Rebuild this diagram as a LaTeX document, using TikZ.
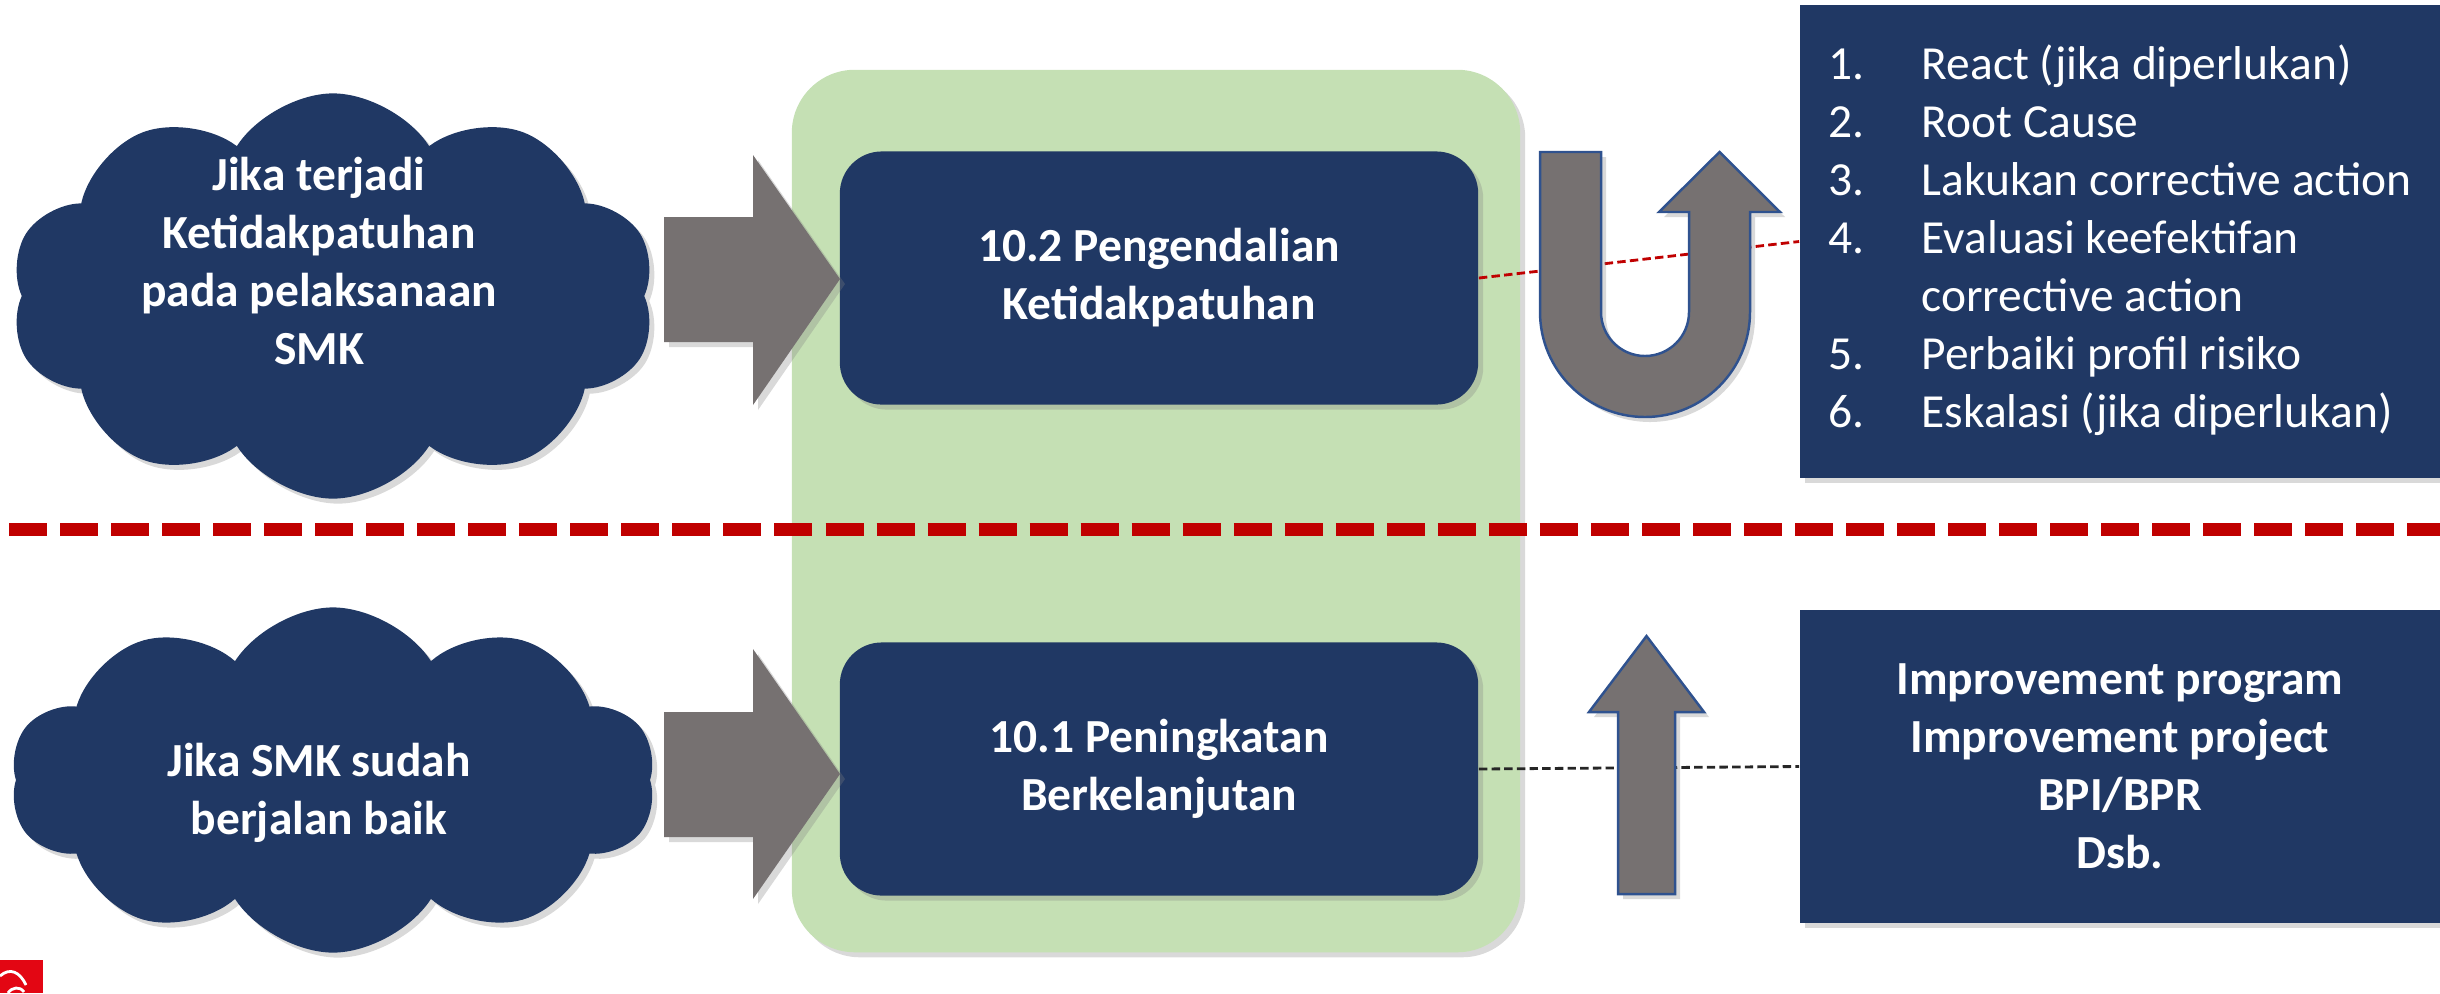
\documentclass[tikz,border=0pt]{standalone}
\usepackage{fontspec}
\setmainfont{Carlito}
\usepackage{tikz}
\usetikzlibrary{shapes.symbols,shadows}

\definecolor{navy}{HTML}{203864}
\definecolor{panelgreen}{HTML}{C5E0B4}
\definecolor{arrowgray}{HTML}{767171}
\definecolor{arrowedge}{HTML}{2F528F}
\definecolor{sepred}{HTML}{C00000}
\definecolor{logored}{HTML}{E30613}

\begin{document}
\begin{tikzpicture}[x=0.01cm, y=-0.01cm,
    every node/.style={font=\fontsize{13.5}{16.5}\selectfont},
    softshadow/.style={drop shadow={opacity=0.3, shadow xshift=0.05cm, shadow yshift=-0.05cm}},
    cloudnode/.style={cloud, cloud puffs=10, cloud puff arc=115, cloud ignores aspect, fill=navy, inner sep=0pt, softshadow},
    cloudtext/.style={text=white, font=\fontsize{13.5}{16.5}\selectfont\bfseries, align=center},
    panel/.style={rectangle, rounded corners=0.63cm, fill=panelgreen, minimum width=7.28cm, minimum height=8.82cm, softshadow},
    stagebox/.style={rectangle, rounded corners=0.42cm, fill=navy, minimum width=6.38cm, minimum height=2.53cm, text=white, font=\fontsize{13.5}{16.5}\selectfont\bfseries, align=center, softshadow},
    infobox/.style={rectangle, fill=navy, minimum width=6.4cm, text=white, softshadow},
    blockarrow/.style={fill=arrowgray, softshadow},
    bentarrow/.style={fill=arrowgray, draw=arrowedge, line width=0.7pt, softshadow},
    linkdash/.style={line width=0.8pt, dash pattern=on 2.4pt off 1.2pt},
    sepline/.style={line width=0.13cm, dash pattern=on 0.38cm off 0.13cm},
  ]
  \useasboundingbox (0,0) rectangle (2440,993);

  \node[cloudnode, minimum width=6.45cm, minimum height=4.05cm] (cloudUp) at (333,296) {};
  \node[cloudtext] (txtUp) at (319,261) {Jika terjadi\\Ketidakpatuhan\\pada pelaksanaan\\SMK};
  \node[cloudnode, minimum width=6.45cm, minimum height=3.45cm] (cloudLow) at (333,780) {};
  \node[cloudtext] (txtLow) at (319,793) {Jika SMK sudah\\berjalan baik};

  \node[panel] (panel) at (1156,511) {};
  \node[stagebox] (ctrlBox) at (1159,278) {10.2 Pengendalian\\Ketidakpatuhan};
  \node[stagebox] (imprBox) at (1159,769) {10.1 Peningkatan\\Berkelanjutan};

  \fill[blockarrow] (664,217) -- (753,217) -- (753,155) -- (840,279) -- (753,405) -- (753,342) -- (664,342) -- cycle;
  \fill[blockarrow] (664,712) -- (753,712) -- (753,649) -- (840,774) -- (753,899) -- (753,837) -- (664,837) -- cycle;

  \coordinate (sepL) at (9,529);
  \coordinate (sepR) at (2440,529);
  \draw[sepline, black, opacity=0.2, shift={(3,5)}] (sepL) -- (sepR);
  \draw[sepline, sepred] (sepL) -- (sepR);

  \node[infobox, minimum height=4.73cm] (listBox) at (2120,241.5) {%
    \begin{tabular}{@{}p{0.93cm}@{}l@{}}
      1. & React (jika diperlukan)\\
      2. & Root Cause\\
      3. & Lakukan corrective action\\
      4. & Evaluasi keefektifan\\
         & corrective action\\
      5. & Perbaiki profil risiko\\
      6. & Eskalasi (jika diperlukan)
    \end{tabular}};
  \node[infobox, minimum height=3.13cm, font=\fontsize{13.5}{16.5}\selectfont\bfseries, align=center] (progBox) at (2120,766.5) {Improvement program\\Improvement project\\BPI/BPR\\Dsb.};

  \draw[linkdash, sepred] (ctrlBox.east) -- (listBox.west);
  \draw[linkdash, black!85] (imprBox.east) -- (progBox.west);

  \filldraw[bentarrow] (1540,152) -- (1540,312) arc[start angle=180, end angle=0, radius=105]
    -- (1750,212) -- (1780,212) -- (1719.5,152) -- (1659,212) -- (1689,212) -- (1689,312)
    arc[start angle=0, end angle=180, radius=44] -- (1601,152) -- cycle;
  \filldraw[bentarrow] (1618,894) -- (1618,712) -- (1589,712) -- (1646.5,636) -- (1704,712) -- (1675,712) -- (1675,894) -- cycle;

  \fill[logored] (0,960) rectangle (43,993);
  \draw[white, line width=0.8pt] (0,976) .. controls (10,967) and (20,972) .. (26,985);
  \draw[white, line width=0.8pt] (8,993) .. controls (12,987) and (20,986) .. (24,992);
\end{tikzpicture}
\end{document}
